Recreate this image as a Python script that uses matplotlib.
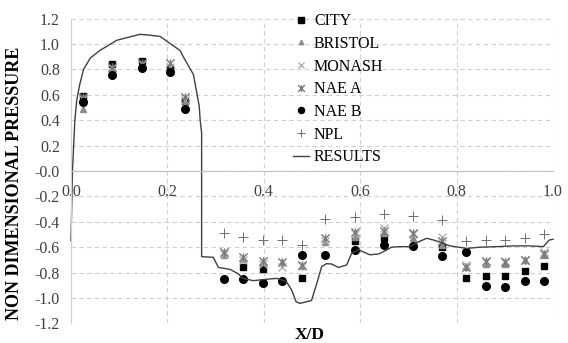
import numpy as np
import matplotlib.pyplot as plt
from matplotlib.path import Path

plt.rcParams['font.family'] = ['Liberation Serif', 'DejaVu Serif']

# ── DATA ─────────────────────────────────────────────────────
xd = [0.025, 0.086, 0.147, 0.205, 0.237, 0.317, 0.357, 0.398, 0.438, 0.479,
      0.527, 0.589, 0.649, 0.709, 0.769, 0.819, 0.860, 0.900, 0.942, 0.981]
nan = np.nan
city    = [0.59, 0.84, 0.87, 0.80, 0.55, nan, -0.76, -0.77, nan, -0.84,
           nan, -0.55, -0.53, nan, -0.60, -0.84, -0.83, -0.83, -0.79, -0.75]
bristol = [0.49, 0.80, 0.83, 0.80, 0.53, -0.66, -0.69, -0.72, -0.72, -0.75,
           -0.56, -0.52, -0.49, -0.53, -0.58, -0.76, -0.73, -0.73, -0.70, -0.66]
monash  = [0.57, 0.81, 0.84, 0.82, 0.56, -0.65, -0.70, -0.73, -0.76, -0.75,
           -0.55, -0.50, -0.45, -0.50, -0.52, -0.74, -0.72, -0.71, -0.70, -0.64]
nae_a   = [0.58, 0.82, 0.85, 0.85, 0.58, -0.64, -0.68, -0.71, -0.72, -0.74,
           -0.53, -0.48, -0.47, -0.49, -0.55, -0.76, -0.71, -0.72, -0.70, -0.65]
nae_b   = [0.54, 0.76, 0.81, 0.78, 0.49, -0.85, -0.85, -0.88, -0.865, -0.66,
           -0.66, -0.62, -0.58, -0.59, -0.67, -0.64, -0.905, -0.91, -0.865, -0.865]
npl     = [nan, nan, nan, nan, nan, -0.49, -0.52, -0.54, -0.54, -0.58,
           -0.38, -0.36, -0.34, -0.355, -0.385, -0.555, -0.54, -0.54, -0.53, -0.50]

res_x = [0.0, 0.003, 0.008, 0.012, 0.018, 0.026, 0.04, 0.06, 0.095, 0.143,
         0.164, 0.185, 0.205, 0.226, 0.233, 0.254, 0.266, 0.268, 0.271, 0.271,
         0.295, 0.306, 0.33, 0.347, 0.357, 0.378, 0.406, 0.427, 0.447, 0.458,
         0.467, 0.475, 0.499, 0.51, 0.52, 0.53, 0.541, 0.555, 0.572, 0.582,
         0.596, 0.62, 0.638, 0.655, 0.665, 0.683, 0.703, 0.717, 0.738, 0.752,
         0.769, 0.786, 0.804, 0.821, 0.849, 0.883, 0.918, 0.952, 0.98, 0.992, 1.0]
res_y = [-0.55, 0.0, 0.40, 0.56, 0.68, 0.80, 0.89, 0.95, 1.03, 1.077,
         1.07, 1.06, 1.006, 0.95, 0.90, 0.76, 0.51, 0.40, 0.30, -0.675,
         -0.68, -0.76, -0.775, -0.81, -0.846, -0.864, -0.853, -0.846, -0.872, -0.94,
         -1.03, -1.043, -1.02, -0.885, -0.754, -0.73, -0.733, -0.76, -0.74, -0.65,
         -0.62, -0.66, -0.654, -0.622, -0.60, -0.596, -0.596, -0.565, -0.53, -0.544,
         -0.565, -0.59, -0.60, -0.61, -0.60, -0.596, -0.59, -0.59, -0.596, -0.544, -0.538]

# excel-style star marker: x with a vertical bar
star = Path([(-1, -1), (1, 1), (-1, 1), (1, -1), (0, -1), (0, 1)],
            [Path.MOVETO, Path.LINETO, Path.MOVETO, Path.LINETO,
             Path.MOVETO, Path.LINETO])

# ── PLOT ─────────────────────────────────────────────────────
fig = plt.figure(figsize=(5.68, 3.43), dpi=100)
ax = fig.add_axes([0.125, 0.0574, 0.8486, 0.8881])

ax.plot(xd, city, 's', color='black', ms=5, ls='none', label='CITY')
ax.plot(xd, bristol, '^', color='#8c8c8c', ms=4, ls='none', label='BRISTOL')
ax.plot(xd, monash, 'x', color='#b0b0b0', ms=6, mew=1, ls='none', label='MONASH')
ax.plot(xd, nae_a, marker=star, color='#7a7a7a', ms=6, mew=1, ls='none', label='NAE A')
ax.plot(xd, nae_b, 'o', color='black', ms=5.5, ls='none', label='NAE B')
ax.plot(xd, npl, '+', color='#6e6e6e', ms=7, mew=0.7, ls='none', label='NPL')
ax.plot(res_x, res_y, '-', color='#404040', lw=1, label='RESULTS', clip_on=False)

ax.set_xlim(0, 1.0)
ax.set_ylim(-1.2, 1.2)
ax.set_xticks(np.arange(0, 1.01, 0.2))
ax.set_yticks(np.arange(-1.2, 1.21, 0.2))
ax.xaxis.set_major_formatter(plt.FuncFormatter(lambda v, p: f'{v:.1f}'))
ax.yaxis.set_major_formatter(plt.FuncFormatter(lambda v, p: f'{v:.1f}'))
ax.tick_params(length=0, labelsize=11.5, colors='#404040')
ax.tick_params(axis='x', pad=9)
ax.tick_params(axis='y', pad=8)

ax.grid(True, color='#d0d0d0', ls=(0, (4, 3)), lw=0.8)
ax.spines['bottom'].set_position(('data', 0))
ax.spines['bottom'].set_color('#c0c0c0')
ax.spines['left'].set_color('#d0d0d0')
ax.spines['top'].set_visible(False)
ax.spines['right'].set_visible(False)
ax.set_axisbelow(True)

ax.set_ylabel('NON DIMENSIONAL PRESSURE', fontsize=13, fontweight='bold')
ax.yaxis.set_label_coords(-0.1, 0.46)
fig.text(0.546, 0.023, 'X/D', fontsize=12.5, fontweight='bold', ha='center', va='center')

ax.legend(loc='upper left', bbox_to_anchor=(0.502, 0.985), bbox_transform=fig.transFigure,
          frameon=False, fontsize=11.5, handlelength=1.0, handletextpad=0.3,
          labelspacing=0.42, borderpad=0, markerscale=0.8)

plt.savefig('out.png', dpi=100)
